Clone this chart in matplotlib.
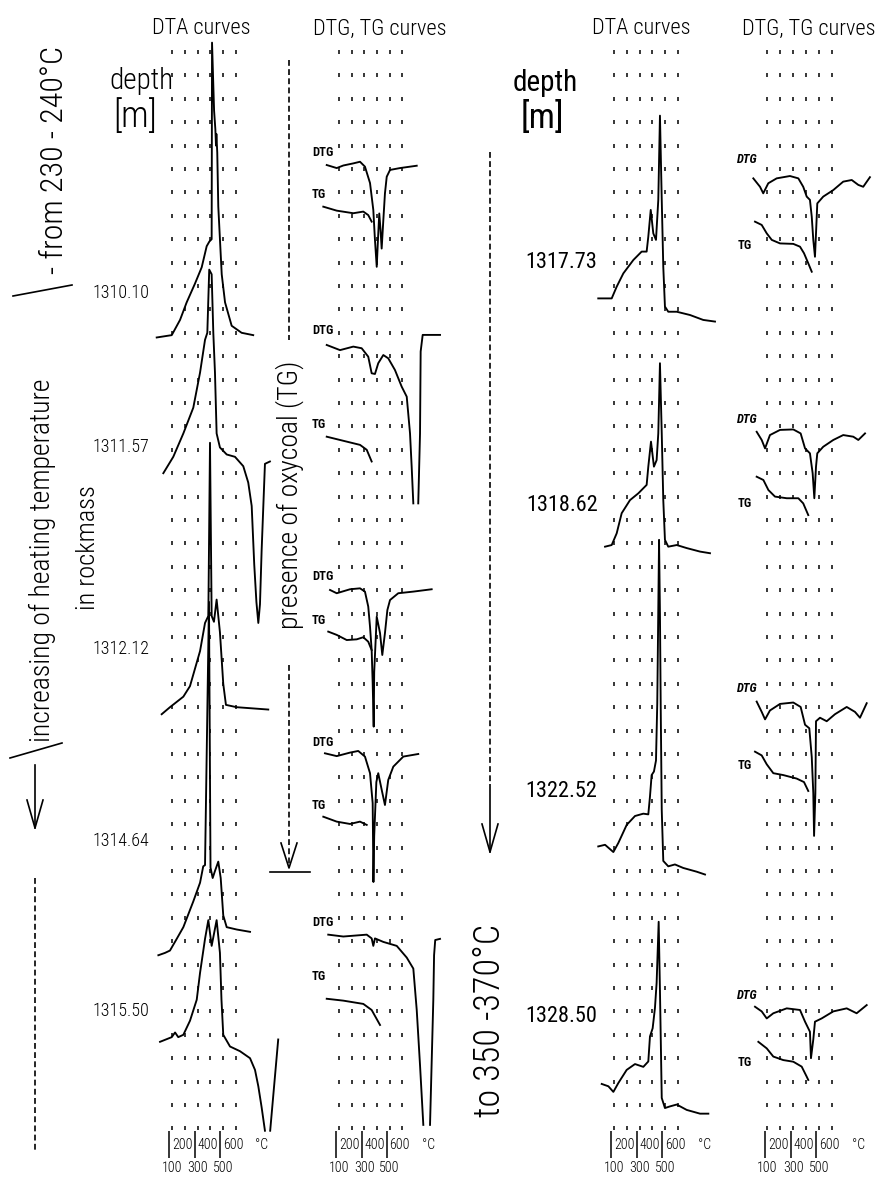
import numpy as np
import matplotlib
matplotlib.use('Agg')
from matplotlib import pyplot as plt

plt.rcParams['font.family'] = ['Roboto Condensed', 'Roboto', 'DejaVu Sans']
plt.rcParams['font.weight'] = 'light'

nan = np.nan
W, H = 884, 1179

# ---- readings: temperature in deg C, position in grid rows counted from the top ----
grid_temps = [100, 200, 300, 400, 500, 600]

depths_left = ['1310.10', '1311.57', '1312.12', '1314.64', '1315.50']
label_rows_left = [10.3, 16.9, 25.5, 33.7, 41.0]
depths_right = ['1317.73', '1318.62', '1322.52', '1328.50']
label_rows_right = [9.0, 19.4, 31.6, 41.2]

# DTA curves, left column
dta_131010_t = [-20, 98, 163, 215, 280, 333, 372, 393, 411, 414, 430, 440, 445, 448, 455, 463, 476, 490, 516, 568, 646, 737]
dta_131010_r = [12.2, 12.1, 11.45, 10.7, 9.9, 9.2, 8.3, 8.1, 8.0, -0.4, 2.5, 3.3, 4.0, 3.5, 4.3, 6.6, 8.0, 9.5, 10.7, 11.7, 12.0, 12.1]
dta_131157_t = [32, 110, 189, 267, 320, 359, 377, 392, 411, 424, 437, 450, 476, 529, 594, 659, 698, 725, 745, 762, 777, 790, 803, 817, 829, 868]
dta_131157_r = [18.0, 17.3, 16.3, 15.2, 13.7, 12.3, 12.0, 9.3, 9.5, 12.0, 13.7, 16.3, 16.9, 17.2, 17.3, 17.7, 18.4, 19.4, 21.9, 23.5, 24.4, 23.6, 21.3, 19.3, 17.6, 17.5]
dta_131212_t = [19, 84, 189, 241, 320, 359, 385, 398, 411, 429, 450, 476, 502, 523, 607, 855]
dta_131212_r = [28.3, 28.0, 27.55, 27.1, 25.6, 24.4, 24.1, 16.7, 24.1, 24.35, 23.4, 24.8, 27.0, 27.9, 28.0, 28.1]
dta_131464_t = [-7, 45, 84, 137, 189, 267, 320, 345, 359, 390, 402, 419, 437, 463, 482, 502, 529, 607, 712]
dta_131464_r = [38.6, 38.5, 38.4, 37.9, 37.4, 36.3, 35.5, 34.8, 34.75, 23.5, 34.85, 35.3, 35.0, 34.6, 35.3, 36.9, 37.4, 37.5, 37.6]
dta_131550_t = [6, 98, 124, 149, 189, 241, 294, 320, 359, 385, 411, 450, 476, 488, 502, 555, 633, 712, 751, 777, 803, 829, nan, 870, 933]
dta_131550_r = [42.3, 42.1, 41.9, 42.1, 42.0, 41.4, 40.5, 39.35, 37.9, 37.1, 38.2, 37.1, 38.5, 40.5, 42.0, 42.5, 42.7, 43.0, 43.5, 44.2, 45.1, 46.1, nan, 46.1, 42.2]

# DTG and TG curves, left column
dtg_131010_t = [3, 82, 134, 213, 266, 305, 345, 371, 384, 398, 408, 418, 428, 437, 450, 463, 477, 503, 582, 714]
dtg_131010_r = [4.83, 4.96, 4.85, 4.76, 4.69, 4.9, 5.6, 6.75, 8.03, 9.18, 8.0, 6.9, 7.6, 8.4, 7.2, 6.04, 5.33, 5.04, 4.96, 4.86]
tg_131010_t = [-24, 82, 213, 292, 331, 358]
tg_131010_r = [6.61, 6.78, 6.89, 6.82, 6.97, 7.25]
dtg_131157_t = [3, 108, 213, 279, 331, 358, 384, 410, 450, 489, 542, 595, 635, 661, 674, 687, nan, 726, 740, 745, 761, 845, 898]
dtg_131157_r = [12.52, 12.74, 12.59, 12.66, 13.02, 13.73, 13.76, 13.3, 12.95, 13.09, 13.59, 14.3, 14.73, 16.3, 17.72, 19.29, nan, 19.29, 16.3, 12.8, 12.09, 12.09, 12.09]
tg_131157_t = [3, 108, 266, 319, 358]
tg_131157_r = [16.44, 16.58, 16.79, 17.0, 17.5]
dtg_131212_t = [29, 82, 187, 266, 305, 331, 345, 358, 366, 374, 378, 398, 424, 442, 463, 482, 503, 568, 687, 832]
dtg_131212_r = [22.99, 23.13, 22.96, 22.92, 23.06, 23.7, 24.56, 25.56, 26.97, 28.83, 26.5, 24.13, 24.83, 25.77, 24.83, 23.85, 23.42, 23.13, 23.06, 22.96]
tg_131212_t = [15, 82, 161, 240, 292, 331, 358]
tg_131212_r = [24.77, 24.91, 25.13, 25.1, 25.01, 25.2, 25.56]
dtg_131464_t = [-11, 82, 187, 252, 305, 345, 366, 372, 378, 395, 410, 440, 463, 489, 529, 608, 726]
dtg_131464_r = [29.97, 30.09, 29.94, 29.87, 30.11, 30.82, 32.1, 35.47, 33.5, 31.2, 30.82, 31.6, 32.18, 31.11, 30.54, 30.11, 30.0]
tg_131464_t = [-24, 82, 187, 266, 319]
tg_131464_r = [32.68, 32.89, 32.99, 32.89, 33.03]
dtg_131550_t = [15, 134, 319, 358, 371, 384, 450, 556, 635, 687, 714, 740, 766, nan, 819, 845, 851, 860, 898]
dtg_131550_r = [37.72, 37.8, 37.72, 37.88, 38.2, 37.88, 38.03, 38.2, 38.7, 39.17, 40.94, 43.3, 45.85, nan, 45.85, 40.5, 38.6, 37.95, 37.9]
tg_131550_t = [3, 134, 292, 358, 424]
tg_131550_r = [40.46, 40.54, 40.68, 40.94, 41.58]

dtg_label_rows_left = [4.3, 11.9, 22.4, 29.5, 37.2]
tg_label_rows_left = [6.1, 15.9, 24.3, 32.2, 39.5]

# DTA curves, right column
dta_131773_t = [-23, 82, 121, 173, 251, 316, 355, 368, 387, 407, 428, 446, 459, 473, 485, 498, 524, 590, 694, 797, 889]
dta_131773_r = [10.53, 10.53, 10.03, 9.46, 8.89, 8.53, 8.53, 7.89, 6.75, 7.75, 8.03, 6.32, 2.72, 6.32, 9.18, 10.88, 11.1, 11.1, 11.24, 11.45, 11.52]
dta_131862_t = [30, 82, 121, 160, 225, 290, 355, 368, 389, 412, 433, 446, 459, 473, 485, 498, 524, 590, 668, 772, 850]
dta_131862_r = [21.14, 21.07, 20.57, 19.71, 19.15, 18.86, 18.5, 17.72, 16.65, 17.72, 17.44, 16.3, 13.3, 16.3, 19.15, 20.85, 21.14, 21.07, 21.2, 21.35, 21.42]
dta_132252_t = [-23, 30, 95, 134, 199, 264, 329, 368, 381, 394, 412, 428, 438, 452, 459, 465, 473, 485, 524, 576, 641, 746, 811]
dta_132252_r = [33.95, 33.88, 34.19, 33.8, 33.03, 32.65, 32.55, 32.58, 31.82, 30.9, 30.75, 30.28, 27.83, 20.85, 24.0, 28.0, 32.4, 34.57, 34.8, 34.72, 34.87, 35.03, 35.15]
dta_132850_t = [4, 56, 95, 134, 199, 264, 329, 368, 381, 402, 420, 433, 449, 459, 473, 498, 537, 590, 668, 772, 837]
dta_132850_r = [44.1, 44.2, 44.44, 44.06, 43.5, 43.25, 43.37, 43.14, 42.07, 41.72, 40.85, 39.78, 37.17, 40.1, 44.7, 45.13, 45.06, 44.98, 45.21, 45.37, 45.37]

# DTG and TG curves, right column
dtg_131773_t = [-10, 42, 67, 106, 171, 274, 339, 377, 404, 429, 443, 455, 468, 476, 486, 532, 610, 687, 753, 804, 842, 894]
dtg_131773_r = [5.4, 5.76, 6.04, 5.61, 5.4, 5.3, 5.4, 5.76, 6.18, 6.32, 7.04, 8.03, 8.75, 7.75, 6.47, 6.18, 5.9, 5.54, 5.47, 5.68, 5.76, 5.35]
tg_131773_t = [3, 55, 94, 133, 197, 300, 352, 383, 416, 443]
tg_131773_r = [7.25, 7.39, 7.75, 8.03, 8.18, 8.2, 8.32, 8.6, 9.03, 9.39]
dtg_131862_t = [16, 55, 81, 119, 197, 300, 357, 391, 429, 450, 463, 476, 486, 532, 610, 687, 765, 804, 856]
dtg_131862_r = [16.23, 16.58, 16.94, 16.37, 16.15, 16.13, 16.3, 16.94, 17.15, 18.0, 19.07, 17.72, 17.15, 16.87, 16.58, 16.37, 16.44, 16.58, 16.3]
tg_131862_t = [16, 68, 107, 158, 249, 339, 377, 416]
tg_131862_r = [18.15, 18.29, 18.72, 19.0, 19.07, 19.07, 19.29, 19.79]
dtg_132252_t = [16, 55, 81, 119, 197, 300, 357, 391, 424, 443, 455, 461, 471, 476, 507, 559, 623, 714, 778, 817, 869]
dtg_132252_r = [27.76, 28.2, 28.52, 28.14, 27.86, 27.8, 27.99, 28.75, 28.9, 30.13, 31.67, 33.5, 31.67, 28.6, 28.45, 28.6, 28.3, 27.99, 28.2, 28.45, 27.83]
tg_132252_t = [3, 55, 94, 145, 222, 326, 383, 416]
tg_132252_r = [29.9, 30.06, 30.44, 30.82, 30.9, 31.05, 31.2, 31.58]
dtg_132850_t = [3, 55, 94, 145, 249, 352, 391, 429, 437, 455, 468, 520, 610, 714, 791, 869]
dtg_132850_r = [40.8, 41.0, 41.3, 41.08, 40.87, 40.94, 41.44, 41.87, 43.0, 42.2, 41.44, 41.3, 41.0, 40.87, 41.08, 40.73]
tg_132850_t = [29, 94, 145, 222, 300, 365, 404, 416]
tg_132850_r = [42.3, 42.58, 42.93, 43.08, 43.15, 43.36, 43.79, 43.93]

dtg_label_rows_right = [4.6, 15.7, 27.2, 40.3]
tg_label_rows_right = [8.25, 19.3, 30.5, 43.2]

# temperature scale under each column
scale_bars = [80, 280, 478]
scale_upper = ['200', '400', '600']
scale_upper_t = [182, 380, 580]
scale_lower = ['100', '300', '500']
scale_lower_t = [100, 300, 500]

# ---------------------------------------------------------------------------
fig = plt.figure(figsize=(W / 100, H / 100), dpi=100)
ROW_TOP, ROW_STEP = 52.0, 23.4   # pixel height of grid row 0 and of one row
N_ROWS = 47


def column_axes(x100, step):
    """Axes with x in deg C and y in grid rows; x100 = pixel of 100 deg C."""
    lo, hi = x100 - 85, x100 + 140
    ax = fig.add_axes([lo / W, 0, (hi - lo) / W, 1])
    ax.set_xlim(100 - (x100 - lo) / step * 100, 100 + (hi - x100) / step * 100)
    ax.set_ylim((H - ROW_TOP) / ROW_STEP, -ROW_TOP / ROW_STEP)
    ax.axis('off')
    gx, gy = np.meshgrid(grid_temps, np.arange(N_ROWS))
    ax.plot(gx.ravel(), gy.ravel(), ls='none', marker='|', ms=2.2,
            mew=1.1, color='k')
    ax.vlines(scale_bars, 46.1, 47.25, color='k', lw=1.1)
    for t, s in zip(scale_upper_t, scale_upper):
        ax.text(t, 46.7, s, ha='center', va='center', fontsize=10)
    for t, s in zip(scale_lower_t, scale_lower):
        ax.text(t, 47.7, s, ha='center', va='center', fontsize=10)
    ax.text(805, 46.7, '°C', ha='center', va='center', fontsize=10)
    return ax


def curve(ax, t, r):
    ax.plot(t, r, color='k', lw=1.35, solid_joinstyle='round')


ax_dta_l = column_axes(172, 12.75)
ax_dtg_l = column_axes(339, 12.66)
ax_dta_r = column_axes(614, 12.8)
ax_dtg_r = column_axes(767.5, 12.9)

for t, r in [(dta_131010_t, dta_131010_r), (dta_131157_t, dta_131157_r),
             (dta_131212_t, dta_131212_r), (dta_131464_t, dta_131464_r),
             (dta_131550_t, dta_131550_r)]:
    curve(ax_dta_l, t, r)
for t, r in [(dtg_131010_t, dtg_131010_r), (tg_131010_t, tg_131010_r),
             (dtg_131157_t, dtg_131157_r), (tg_131157_t, tg_131157_r),
             (dtg_131212_t, dtg_131212_r), (tg_131212_t, tg_131212_r),
             (dtg_131464_t, dtg_131464_r), (tg_131464_t, tg_131464_r),
             (dtg_131550_t, dtg_131550_r), (tg_131550_t, tg_131550_r)]:
    curve(ax_dtg_l, t, r)
for t, r in [(dta_131773_t, dta_131773_r), (dta_131862_t, dta_131862_r),
             (dta_132252_t, dta_132252_r), (dta_132850_t, dta_132850_r)]:
    curve(ax_dta_r, t, r)
for t, r in [(dtg_131773_t, dtg_131773_r), (tg_131773_t, tg_131773_r),
             (dtg_131862_t, dtg_131862_r), (tg_131862_t, tg_131862_r),
             (dtg_132252_t, dtg_132252_r), (tg_132252_t, tg_132252_r),
             (dtg_132850_t, dtg_132850_r), (tg_132850_t, tg_132850_r)]:
    curve(ax_dtg_r, t, r)

for s, r in zip(depths_left, label_rows_left):
    ax_dta_l.text(-75, r, s, ha='right', va='center', fontsize=13)
for s, r in zip(depths_right, label_rows_right):
    ax_dta_r.text(-28, r, s, ha='right', va='center', fontsize=16,
                  weight='normal')
for r1, r2 in zip(dtg_label_rows_left, tg_label_rows_left):
    ax_dtg_l.text(-115, r1, 'DTG', ha='left', va='center', fontsize=9,
                  weight='bold')
    ax_dtg_l.text(-115, r2, 'TG', ha='left', va='center', fontsize=9,
                  weight='bold')
for r1, r2 in zip(dtg_label_rows_right, tg_label_rows_right):
    ax_dtg_r.text(-135, r1, 'DTG', ha='left', va='center', fontsize=9,
                  style='italic', weight='bold')
    ax_dtg_r.text(-135, r2, 'TG', ha='left', va='center', fontsize=9,
                  weight='bold')


# titles and free text (pixel positions)
def ftext(x, y, s, **kw):
    fig.text(x / W, 1 - y / H, s, ha='center', va='center', **kw)


ftext(201, 29, 'DTA curves', fontsize=16)
ftext(380, 29, 'DTG, TG curves', fontsize=16)
ftext(641, 29, 'DTA curves', fontsize=16)
ftext(809, 29, 'DTG, TG curves', fontsize=16)
ftext(141, 81, 'depth', fontsize=21)
ftext(135, 117, '[m]', fontsize=26)
ftext(545, 83, 'depth', fontsize=21, weight='normal')
ftext(542, 118, '[m]', fontsize=25, weight='normal')

ftext(55, 160, '- from 230 - 240°C', rotation=90, fontsize=23)
ftext(42, 560, 'increasing of heating temperature', rotation=90, fontsize=20)
ftext(88, 548, 'in rockmass', rotation=90, fontsize=19)
ftext(290, 495, 'presence of oxycoal (TG)', rotation=90, fontsize=20)
ftext(490, 1020, 'to 350 -370°C', rotation=90, fontsize=26)

# arrows, slashes and dashed guide lines
ov = fig.add_axes([0, 0, 1, 1])
ov.set_xlim(0, W)
ov.set_ylim(H, 0)
ov.axis('off')
kw = dict(color='k', lw=1.2)
dash = dict(color='k', lw=1.2, ls=(0, (3.5, 2)))
ov.plot([13, 72], [296, 285], **kw)
ov.plot([10, 62], [758, 743], **kw)
ov.plot([35, 35], [765, 828], **kw)
ov.plot([27, 35, 43], [800, 828, 800], **kw)
ov.plot([35, 35], [878, 1150], **dash)
ov.plot([289, 289], [60, 340], **dash)
ov.plot([289, 289], [665, 866], **dash)
ov.plot([281, 289, 297], [843, 868, 843], **kw)
ov.plot([270, 310], [872, 872], **kw)
ov.plot([490, 490], [152, 785], **dash)
ov.plot([490, 490], [785, 852], **kw)
ov.plot([482, 490, 498], [824, 852, 824], **kw)

fig.savefig('out.png', dpi=100, facecolor='white')
